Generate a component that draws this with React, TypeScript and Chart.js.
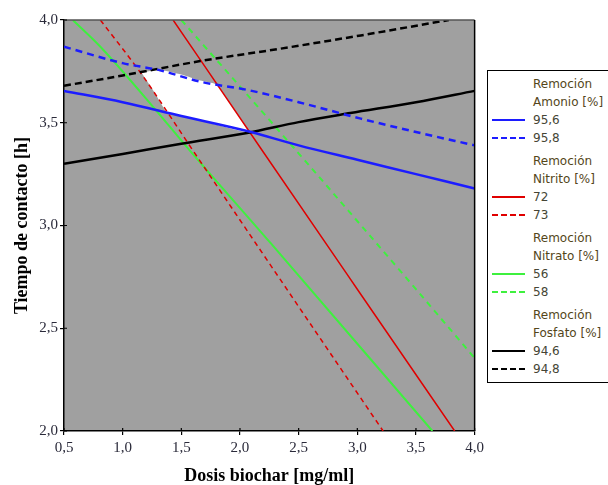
import React, { useEffect, useRef } from 'react';
import { Chart, registerables } from 'chart.js';

Chart.register(...registerables);

// ---- axis ticks ----
const xTickValues = [0.5, 1.0, 1.5, 2.0, 2.5, 3.0, 3.5, 4.0];
const xTickLabels = ['0,5', '1,0', '1,5', '2,0', '2,5', '3,0', '3,5', '4,0'];
const yTickValues = [2.0, 2.5, 3.0, 3.5, 4.0];
const yTickLabels = ['2,0', '2,5', '3,0', '3,5', '4,0'];

// ---- contour lines (x = Dosis biochar, y = Tiempo de contacto) ----
const amonio956X = [0.5, 1.0, 1.5, 2.06, 2.5, 3.0, 3.5, 4.0];
const amonio956Y = [3.655, 3.6, 3.533, 3.46, 3.39, 3.32, 3.25, 3.18];
const amonio958X = [0.5, 1.0, 1.32, 1.66, 2.06, 2.5, 3.03, 3.5, 4.0];
const amonio958Y = [3.87, 3.79, 3.755, 3.7, 3.66, 3.6, 3.52, 3.455, 3.39];

const nitrito72X = [1.43, 2.175, 3.0, 3.83];
const nitrito72Y = [4.0, 3.377, 2.69, 2.0];
const nitrito73X = [0.81, 1.15, 1.605, 2.34, 3.22];
const nitrito73Y = [4.0, 3.745, 3.36, 2.74, 2.0];

const nitrato56X = [0.575, 0.81, 1.29, 1.52, 2.26, 3.64];
const nitrato56Y = [4.0, 3.87, 3.557, 3.4, 2.915, 2.0];
const nitrato58X = [1.5, 2.46, 3.485, 4.0];
const nitrato58Y = [4.0, 3.377, 2.7, 2.355];

const fosfato946X = [0.5, 1.0, 1.5, 2.06, 2.5, 2.94, 3.5, 4.0];
const fosfato946Y = [3.3, 3.348, 3.398, 3.45, 3.503, 3.547, 3.6, 3.655];
const fosfato948X = [0.5, 1.0, 1.66, 2.34, 3.03, 3.78];
const fosfato948Y = [3.68, 3.73, 3.8, 3.86, 3.925, 4.0];

// ---- feasible (white) region ----
const regionX = [1.16, 1.32, 1.5, 1.66, 1.8, 1.95, 2.075, 1.8, 1.5, 1.38, 1.27, 1.16];
const regionY = [3.745, 3.757, 3.735, 3.705, 3.685, 3.565, 3.456, 3.49, 3.535, 3.55, 3.65, 3.745];

// ---- legend ----
const legendTitles = ['Amonio [%]', 'Nitrito [%]', 'Nitrato [%]', 'Fosfato [%]'];
const legendColors = ['#1c1cff', '#e00000', '#3ef03e', '#000000'];
const legendLevels = [
  ['95,6', '95,8'],
  ['72', '73'],
  ['56', '58'],
  ['94,6', '94,8'],
];

const pts = (xs: number[], ys: number[]) => xs.map((x, i) => ({ x, y: ys[i] }));

const line = (data: any, color: string, width: number, dash: number[]) => ({
  data,
  showLine: true,
  borderColor: color,
  borderWidth: width,
  borderDash: dash,
  pointRadius: 0,
  cubicInterpolationMode: 'monotone',
  fill: false,
});

const frame = {
  id: 'frame',
  beforeDraw(chart: any) {
    const { ctx, chartArea: a } = chart;
    ctx.save();
    ctx.fillStyle = '#a0a0a0';
    ctx.fillRect(a.left, a.top, a.right - a.left, a.bottom - a.top);
    ctx.restore();
  },
  afterDraw(chart: any) {
    const { ctx, chartArea: a, scales } = chart;
    ctx.save();
    ctx.lineWidth = 1.5;
    ctx.strokeStyle = '#555';
    ctx.beginPath();
    ctx.moveTo(a.left, a.top);
    ctx.lineTo(a.right, a.top);
    ctx.stroke();
    ctx.strokeStyle = '#000';
    ctx.beginPath();
    ctx.moveTo(a.right, a.top);
    ctx.lineTo(a.right, a.bottom);
    ctx.stroke();
    // inner halves of tick marks
    ctx.lineWidth = 1.2;
    ctx.beginPath();
    xTickValues.forEach((v) => {
      const px = scales.x.getPixelForValue(v);
      ctx.moveTo(px, a.bottom);
      ctx.lineTo(px, a.bottom - 3);
    });
    yTickValues.forEach((v) => {
      const py = scales.y.getPixelForValue(v);
      ctx.moveTo(a.left, py);
      ctx.lineTo(a.left + 3, py);
    });
    ctx.stroke();
    ctx.restore();
  },
};

function ChartCanvas() {
  const ref = useRef<HTMLCanvasElement>(null);
  useEffect(() => {
    if (!ref.current) return;
    const tickFont = { family: '"Liberation Serif", serif', size: 15 };
    const titleFont = { family: '"Liberation Serif", serif', size: 18, weight: 'bold' as const, lineHeight: 1 };
    const chart = new Chart(ref.current, {
      type: 'scatter',
      data: {
        datasets: [
          line(pts(amonio956X, amonio956Y), legendColors[0], 2.5, []),
          line(pts(amonio958X, amonio958Y), legendColors[0], 2.5, [7, 5]),
          line(pts(fosfato946X, fosfato946Y), legendColors[3], 2.5, []),
          line(pts(fosfato948X, fosfato948Y), legendColors[3], 2.5, [7, 4]),
          line(pts(nitrito72X, nitrito72Y), legendColors[1], 1.5, []),
          line(pts(nitrito73X, nitrito73Y), legendColors[1], 1.5, [5, 4]),
          line(pts(nitrato56X, nitrato56Y), legendColors[2], 2, []),
          line(pts(nitrato58X, nitrato58Y), legendColors[2], 2, [6, 5]),
          {
            data: pts(regionX, regionY),
            showLine: true,
            borderWidth: 0,
            borderColor: 'rgba(0,0,0,0)',
            backgroundColor: '#ffffff',
            pointRadius: 0,
            tension: 0.2,
            fill: 'shape',
          } as any,
        ],
      },
      options: {
        animation: false,
        responsive: false,
        events: [],
        layout: { padding: { left: 0, top: 20, right: 12, bottom: 0 } },
        plugins: { legend: { display: false }, tooltip: { enabled: false } },
        scales: {
          x: {
            type: 'linear',
            min: 0.5,
            max: 4.0,
            afterFit: (s: any) => { s.height = 54; },
            afterBuildTicks: (s: any) => { s.ticks = xTickValues.map((v) => ({ value: v })); },
            ticks: {
              color: '#2a2a3a',
              font: tickFont,
              padding: 4,
              maxRotation: 0,
              callback: (v: any) => xTickLabels[xTickValues.indexOf(Math.round(Number(v) * 10) / 10)],
            },
            grid: { drawOnChartArea: false, drawTicks: true, tickLength: 4, color: '#000', lineWidth: 1.2 },
            border: { display: true, color: '#000', width: 1.5 },
            title: { display: true, text: 'Dosis biochar [mg/ml]', color: '#000', font: titleFont, padding: { top: 0, bottom: 0 } },
          },
          y: {
            type: 'linear',
            min: 2.0,
            max: 4.0,
            afterFit: (s: any) => { s.width = 64; },
            afterBuildTicks: (s: any) => { s.ticks = yTickValues.map((v) => ({ value: v })); },
            ticks: {
              color: '#2a2a3a',
              font: tickFont,
              padding: 2,
              callback: (v: any) => yTickLabels[yTickValues.indexOf(Math.round(Number(v) * 10) / 10)],
            },
            grid: { drawOnChartArea: false, drawTicks: true, tickLength: 4, color: '#000', lineWidth: 1.2 },
            border: { display: true, color: '#000', width: 1.5 },
            title: { display: true, text: 'Tiempo de contacto [h]', color: '#000', font: titleFont, padding: { top: 13, bottom: 0 } },
          },
        },
      },
      plugins: [frame],
    });
    return () => chart.destroy();
  }, []);
  return <canvas ref={ref} width={488} height={485} style={{ position: 'absolute', left: 0, top: 0, width: 488, height: 485 }} />;
}

function Legend() {
  const boxTop = 70;
  return (
    <div
      style={{
        position: 'absolute',
        left: 487,
        top: boxTop,
        width: 135,
        height: 311,
        border: '1px solid #000',
        background: '#fff',
        fontFamily: '"DejaVu Sans", sans-serif',
        fontSize: 12,
      }}
    >
      {legendTitles.map((t, g) => {
        const base = 13 + g * 77;
        const rows = [
          { kind: 'text', text: 'Remoción' },
          { kind: 'text', text: t },
          { kind: 'line', text: legendLevels[g][0], dash: false },
          { kind: 'line', text: legendLevels[g][1], dash: true },
        ];
        return rows.map((r, i) => (
          <div
            key={g + '-' + i}
            style={{ position: 'absolute', left: 0, top: base + i * 18 - 9, height: 18, width: 125, lineHeight: '18px' }}
          >
            {r.kind === 'line' && (
              <svg width={34} height={18} style={{ position: 'absolute', left: 4, top: 0 }}>
                <line
                  x1={0}
                  y1={9}
                  x2={33}
                  y2={9}
                  stroke={legendColors[g]}
                  strokeWidth={2}
                  strokeDasharray={(r as any).dash ? '6 3' : undefined}
                />
              </svg>
            )}
            <span
              style={{
                position: 'absolute',
                left: 45,
                top: 0,
                whiteSpace: 'nowrap',
                color: r.kind === 'text' ? '#54461a' : '#454535',
              }}
            >
              {r.text}
            </span>
          </div>
        ));
      })}
    </div>
  );
}

export default function App() {
  return (
    <div style={{ position: 'fixed', left: 0, top: 0, width: 608, height: 485, overflow: 'hidden', background: '#fff' }}>
      <ChartCanvas />
      <Legend />
    </div>
  );
}
